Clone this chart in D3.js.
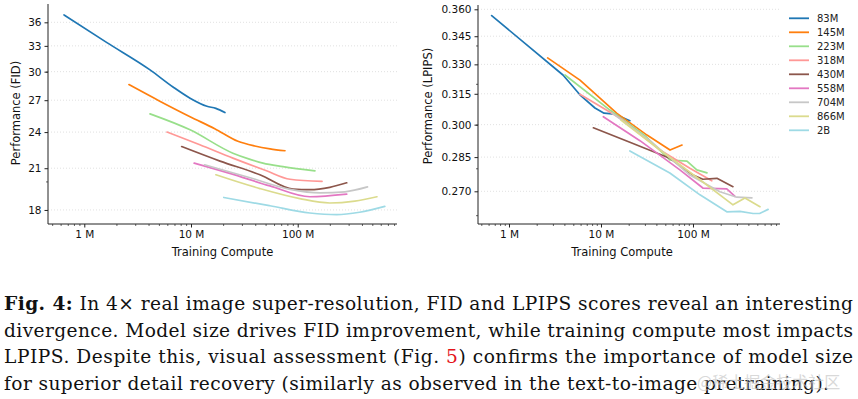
<!DOCTYPE html>
<html lang="en">
<head>
<meta charset="UTF-8">
<title>Fig. 4</title>
<style>
    body { margin: 0; background: #fff; }
    svg { display: block; }
    .tick text { font-family: "DejaVu Sans", sans-serif; font-size: 10.5px; fill: #111; }
    .axis-label { font-family: "DejaVu Sans", sans-serif; font-size: 11.5px; fill: #111; }
    .legend text { font-family: "DejaVu Sans", sans-serif; font-size: 10px; fill: #222; }
    .grid line { stroke: #d9d9d9; stroke-width: 0.8; stroke-dasharray: 1,2; }
    .caption { font-family: "DejaVu Serif", serif; font-size: 18.6px; fill: #111; }
</style>
</head>
<body>
<div id="chart"></div>
<script src="https://cdn.jsdelivr.net/npm/d3@7"></script>
<script>
// model sizes (legend order) and their line colours
const models = ["83M", "145M", "223M", "318M", "430M", "558M", "704M", "866M", "2B"];
const colors = ["#1f77b4", "#ff7f0e", "#98df8a", "#ff9896", "#8c564b", "#e377c2", "#c7c7c7", "#dbdb8d", "#9edae5"];

// left panel: training compute (M) vs FID
const fidCompute = [
    [0.645, 1.63, 4.13, 6.78, 9.8, 14.1, 17.1, 20.8],
    [2.62, 5.1, 9.8, 16.7, 27.5, 39.6, 55, 76],
    [4.13, 9.8, 24.7, 35.8, 47.2, 72.8, 145],
    [5.96, 12.1, 24.7, 51, 84.7, 169],
    [8.18, 18.7, 44.2, 90.4, 130, 200, 288],
    [10.7, 23.1, 54.9, 130, 288],
    [13.4, 35.8, 84.7, 162, 277, 451],
    [17.1, 44.2, 104.6, 200, 343, 553],
    [20.3, 54.9, 130, 232, 380, 655]
];
const fidScore = [
    [37.0, 33.4, 30.2, 28.35, 27.2, 26.4, 26.2, 25.8],
    [28.6, 26.9, 25.4, 24.3, 23.2, 22.8, 22.56, 22.4],
    [25.67, 24.2, 22.2, 21.7, 21.4, 21.13, 20.8],
    [24.0, 22.9, 21.8, 20.8, 20.16, 20.0],
    [22.75, 21.56, 20.5, 19.44, 19.4, 19.57, 19.9],
    [21.4, 20.6, 19.67, 18.9, 19.08],
    [21.27, 20.27, 19.42, 19.17, 19.25, 19.6],
    [20.5, 19.48, 18.77, 18.47, 18.6, 18.9],
    [18.85, 18.28, 17.8, 17.69, 17.85, 18.24]
];

// right panel: training compute (M) vs LPIPS
const lpipsCompute = [
    [0.648, 3.86, 5.9, 8.6, 10.8, 14.2, 20.6],
    [2.63, 5.91, 14.9, 31.6, 56.3, 76],
    [4.06, 12.5, 30, 56, 86, 110, 142],
    [5.9, 16, 43.8, 92.5, 160],
    [8.26, 20.6, 56, 100, 128, 182, 272],
    [10.6, 26.5, 72, 128, 233, 286],
    [13.2, 34, 92.5, 196, 300, 437],
    [16.5, 43.8, 119, 272, 367, 535],
    [20.6, 56, 119, 233, 324, 450, 530, 655]
];
const lpipsScore = [
    [0.3564, 0.3245, 0.3145, 0.3080, 0.3055, 0.3050, 0.3019],
    [0.3334, 0.3219, 0.3054, 0.2951, 0.2882, 0.2905],
    [0.3245, 0.3070, 0.2948, 0.2837, 0.2832, 0.2793, 0.2780],
    [0.3148, 0.3032, 0.2882, 0.2800, 0.2745],
    [0.2985, 0.2918, 0.2845, 0.2770, 0.2752, 0.2756, 0.2720],
    [0.3038, 0.2925, 0.2793, 0.2714, 0.2710, 0.2678],
    [0.3055, 0.2925, 0.2770, 0.2698, 0.2675, 0.2672],
    [0.3022, 0.2882, 0.2750, 0.2643, 0.2672, 0.2635],
    [0.2878, 0.2779, 0.2685, 0.2614, 0.2616, 0.2607, 0.2607, 0.2624]
];

// ticks
const xTicks = [1, 10, 100];
const xTickLabels = ["1 M", "10 M", "100 M"];
const fidTicks = [18, 21, 24, 27, 30, 33, 36];
const fidMinor = [20, 30];
const lpipsTicks = [0.270, 0.285, 0.300, 0.315, 0.330, 0.345, 0.360];
const lpipsMinor = [0.26, 0.28, 0.30, 0.32, 0.34];

const captionLines = [
    [{t: "Fig. 4:", b: true}, {t: " In 4× real image super-resolution, FID and LPIPS scores reveal an interesting"}],
    [{t: "divergence. Model size drives FID improvement, while training compute most impacts"}],
    [{t: "LPIPS. Despite this, visual assessment (Fig. "}, {t: "5", red: true}, {t: ") confirms the importance of model size"}],
    [{t: "for superior detail recovery (similarly as observed in the text-to-image pretraining)."}]
];

const W = 858, H = 399;
const svg = d3.select("#chart").append("svg").attr("width", W).attr("height", H);

function panel(opts) {
    const x = d3.scaleLog().domain(opts.xDomain).range([opts.x0, opts.x1]);
    const y = d3.scaleLog().domain(opts.yDomain).range([opts.y1, opts.y0]);
    const g = svg.append("g");

    // dotted gridlines
    g.append("g").attr("class", "grid")
        .selectAll("line").data(opts.yTicks).join("line")
        .attr("x1", opts.x0).attr("x2", opts.x1)
        .attr("y1", d => y(d)).attr("y2", d => y(d));

    // minor x ticks
    const minor = [];
    for (let e = -1; e <= 2; e++) {
        for (let m = 2; m <= 9; m++) {
            const v = m * Math.pow(10, e);
            if (v > opts.xDomain[0] && v < opts.xDomain[1]) minor.push(v);
        }
    }
    g.append("g").attr("transform", `translate(0,${opts.y1})`)
        .call(d3.axisBottom(x).tickValues(minor).tickFormat("").tickSize(2).tickSizeOuter(0))
        .call(a => a.select(".domain").remove())
        .selectAll("line").attr("stroke", "#222").attr("stroke-width", 0.7);

    g.append("g").attr("transform", `translate(0,${opts.y1})`)
        .call(d3.axisBottom(x).tickValues(xTicks).tickFormat((d, i) => xTickLabels[i]).tickSize(3.5).tickSizeOuter(0).tickPadding(3))
        .call(a => a.select(".domain").attr("stroke", "#222").attr("d", `M${opts.x0},0H${opts.x1}`))
        .call(a => a.selectAll(".tick line").attr("stroke", "#222"));

    // minor y ticks
    g.append("g").attr("transform", `translate(${opts.x0},0)`)
        .call(d3.axisLeft(y).tickValues(opts.yMinor).tickFormat("").tickSize(2).tickSizeOuter(0))
        .call(a => a.select(".domain").remove())
        .selectAll("line").attr("stroke", "#222").attr("stroke-width", 0.7);

    g.append("g").attr("transform", `translate(${opts.x0},0)`)
        .call(d3.axisLeft(y).tickValues(opts.yTicks).tickFormat(opts.yFormat).tickSize(3.5).tickSizeOuter(0).tickPadding(3))
        .call(a => a.select(".domain").attr("stroke", "#222").attr("d", `M0,${opts.y0}V${opts.y1}`))
        .call(a => a.selectAll(".tick line").attr("stroke", "#222"));

    const line = d3.line().x(d => x(d[0])).y(d => y(d[1])).curve(opts.curve);
    models.forEach((m, i) => {
        const pts = opts.cx[i].map((c, j) => [c, opts.cy[i][j]]);
        g.append("path").datum(pts)
            .attr("d", line)
            .attr("fill", "none")
            .attr("stroke", colors[i])
            .attr("stroke-width", 1.7)
            .attr("stroke-linejoin", "round")
            .attr("stroke-linecap", "round");
    });

    g.append("text").attr("class", "axis-label")
        .attr("x", (opts.x0 + opts.x1) / 2 + opts.xlabDx).attr("y", 256)
        .attr("text-anchor", "middle").text("Training Compute");
    g.append("text").attr("class", "axis-label")
        .attr("transform", `translate(${opts.ylabX},${opts.ylabY}) rotate(-90)`)
        .attr("text-anchor", "middle").text(opts.ylabel);
}

panel({
    x0: 48, x1: 397, y0: 4, y1: 224,
    xDomain: [0.457, 852], yDomain: [17.09, 38.52],
    cx: fidCompute, cy: fidScore,
    yTicks: fidTicks, yMinor: fidMinor, yFormat: d3.format("d"),
    ylabel: "Performance (FID)", ylabX: 20, ylabY: 113, xlabDx: 0,
    curve: d3.curveMonotoneX
});

panel({
    x0: 478, x1: 780, y0: 5, y1: 224,
    xDomain: [0.4603, 882.5], yDomain: [0.2564, 0.36246],
    cx: lpipsCompute, cy: lpipsScore,
    yTicks: lpipsTicks, yMinor: lpipsMinor, yFormat: d3.format(".3f"),
    ylabel: "Performance (LPIPS)", ylabX: 432, ylabY: 106, xlabDx: -7,
    curve: d3.curveLinear
});

// legend
const legend = svg.append("g").attr("class", "legend");
models.forEach((m, i) => {
    const ly = 18.3 + i * 14;
    legend.append("line").attr("x1", 789).attr("x2", 809).attr("y1", ly).attr("y2", ly)
        .attr("stroke", colors[i]).attr("stroke-width", 1.8);
    legend.append("text").attr("x", 817).attr("y", ly).attr("dy", "0.35em").text(m);
});

// caption
const capBase = [310, 336.5, 363, 389.5];
const capWidth = [849, 849, 849, 825];
captionLines.forEach((parts, i) => {
    const t = svg.append("text").attr("class", "caption")
        .attr("x", 4).attr("y", capBase[i])
        .attr("textLength", capWidth[i]).attr("lengthAdjust", "spacing");
    parts.forEach(p => {
        t.append("tspan").text(p.t)
            .attr("font-weight", p.b ? "bold" : null)
            .attr("fill", p.red ? "#e4141b" : null);
    });
});

// site watermark
svg.append("text").attr("x", 697).attr("y", 388)
    .attr("font-family", "Noto Sans CJK SC, sans-serif").attr("font-size", 16)
    .attr("fill", "#c8c8c8").attr("fill-opacity", 0.7)
    .text("@稀土掘金技术社区");
</script>
</body>
</html>
